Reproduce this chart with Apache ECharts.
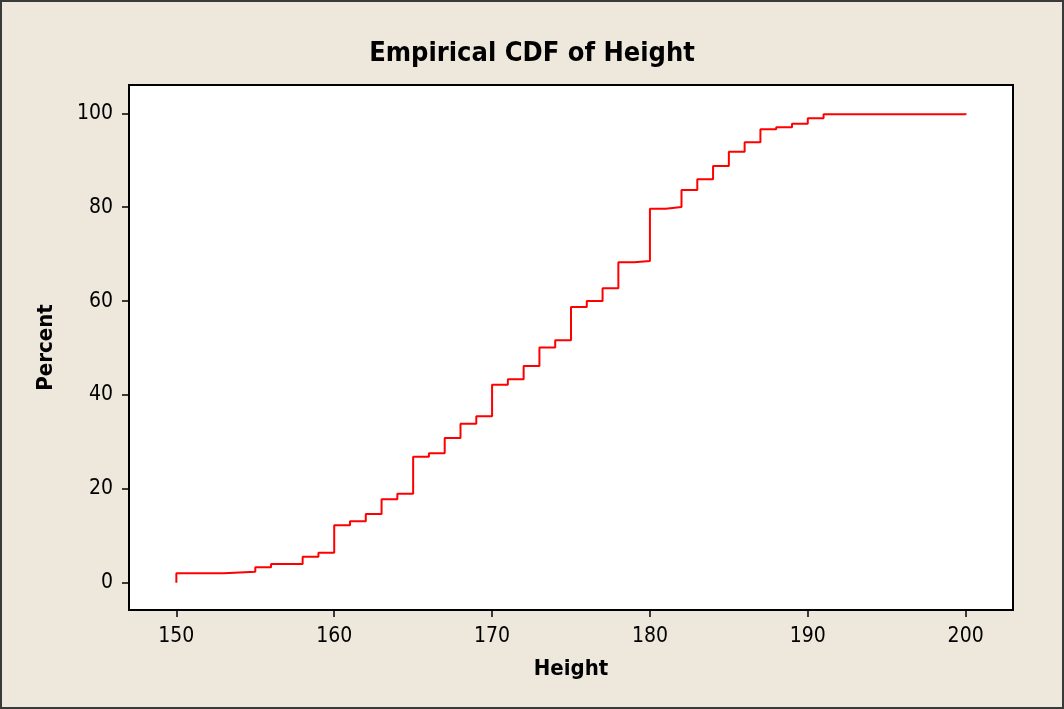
<!DOCTYPE html>
<html>
<head>
<meta charset="utf-8">
<script src="https://cdn.jsdelivr.net/npm/echarts@6/dist/echarts.min.js"></script>
<style>
  html, body { margin: 0; padding: 0; background: #EDE7DC; }
  #chart { width: 1064px; height: 709px; }
</style>
</head>
<body>
<div id="chart"></div>
<script>
const titleText = 'Empirical CDF of Height';
const xName = 'Height';
const yName = 'Percent';
const xTicks = [150, 160, 170, 180, 190, 200];
const yTicks = [0, 20, 40, 60, 80, 100];
const heights = [150,150,153,155,156,158,159,160,161,162,163,164,165,166,167,168,169,170,171,172,173,174,175,176,177,178,179,180,181,182,183,184,185,186,187,188,189,190,191,200];
const percents = [0,2.0,2.34,3.28,3.98,5.54,6.39,12.23,13.08,14.64,17.77,18.96,26.84,27.57,30.83,33.87,35.45,42.18,43.33,46.17,50.1,51.66,58.73,60.01,62.72,68.26,68.54,79.68,80.04,83.66,85.94,88.77,91.82,93.82,96.59,97.02,97.78,98.94,99.8,100];

const FONT = '"DejaVu Sans Condensed", "Liberation Sans", sans-serif';
const chart = echarts.init(document.getElementById('chart'), null, { renderer: 'canvas' });
chart.setOption({
  animation: false,
  backgroundColor: '#EDE7DC',
  title: {
    text: titleText,
    left: 'center',
    top: 35,
    textStyle: { fontFamily: FONT, fontWeight: 'bold', fontSize: 27, color: '#000' }
  },
  graphic: [{
    type: 'rect',
    shape: { x: 1, y: 1, width: 1062, height: 707 },
    style: { fill: 'none', stroke: '#3a3a3a', lineWidth: 2 },
    silent: true
  }],
  grid: {
    left: 129, top: 85, width: 884, height: 525,
    show: true, backgroundColor: '#fff', borderColor: '#000', borderWidth: 2
  },
  xAxis: {
    type: 'value',
    min: 147, max: 203,
    name: xName,
    nameLocation: 'middle',
    nameGap: 48,
    nameTextStyle: { fontFamily: FONT, fontWeight: 'bold', fontSize: 22, color: '#000' },
    axisLine: { show: true, onZero: false, lineStyle: { color: '#000', width: 2 } },
    axisTick: { show: true, length: 7, lineStyle: { color: '#000', width: 1.5 }, customValues: xTicks },
    axisLabel: { fontFamily: FONT, fontSize: 21, color: '#000', margin: 16, customValues: xTicks },
    splitLine: { show: false }
  },
  yAxis: {
    type: 'value',
    min: -5.82, max: 106.03,
    name: yName,
    nameLocation: 'middle',
    nameGap: 72,
    nameRotate: 90,
    nameTextStyle: { fontFamily: FONT, fontWeight: 'bold', fontSize: 22, color: '#000' },
    axisLine: { show: true, onZero: false, lineStyle: { color: '#000', width: 2 } },
    axisTick: { show: true, length: 7, lineStyle: { color: '#000', width: 1.5 }, customValues: yTicks },
    axisLabel: { fontFamily: FONT, fontSize: 21, color: '#000', margin: 16, customValues: yTicks },
    splitLine: { show: false }
  },
  series: [{
    type: 'line',
    step: 'end',
    data: heights.map((h, i) => [h, percents[i]]),
    showSymbol: false,
    symbol: 'none',
    lineStyle: { color: '#FF0000', width: 2 },
    itemStyle: { color: '#FF0000' }
  }]
});
</script>
</body>
</html>
